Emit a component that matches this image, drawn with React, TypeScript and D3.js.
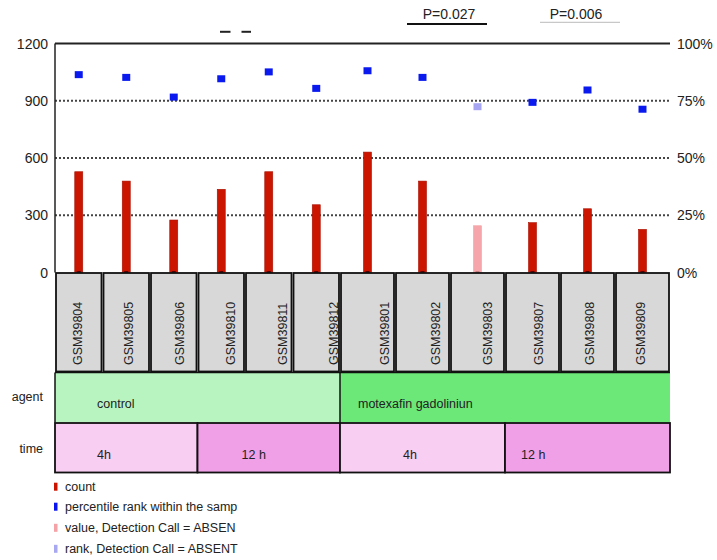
import React from "react";
import * as d3 from "d3";

const samples = ["GSM39804","GSM39805","GSM39806","GSM39810","GSM39811","GSM39812","GSM39801","GSM39802","GSM39803","GSM39807","GSM39808","GSM39809"];
const counts = [528,479,275,436,528,355,631,479,245,261,334,226];
const ranks = [86.4,85.2,76.6,84.6,87.6,80.4,88.1,85.2,72.4,74.3,79.7,71.3];
const absent = [false,false,false,false,false,false,false,false,true,false,false,false];
const agentNames = ["control","motexafin gadoliniun"];
const agentOf = [0,0,0,0,0,0,1,1,1,1,1,1];
const timeNames = ["4h","12 h","4h","12 h"];
const timeOf = [0,0,0,1,1,1,2,2,2,3,3,3];
const countTicks = [0,300,600,900,1200];
const rankTicks = ["0%","25%","50%","75%","100%"];
const legendItems = ["count","percentile rank within the samp","value, Detection Call = ABSEN","rank, Detection Call = ABSENT"];
const legendColors = ["#c81400","#0a14ee","#f4a2a6","#a8a8f0"];
const pValues = ["P=0.027","P=0.006"];

const W = 717, H = 560;
const L = 55, R = 670, TOP = 43.5, BASE = 272.5;
const FONT = "'Liberation Sans', Arial, Helvetica, sans-serif";
const agentColors = ["#b7f4bf","#6be878"];
const timeColors = ["#f8cef2","#efa0e6","#f8cef2","#efa0e6"];
const agentTextOffsets = [42, 18];
const timeTextOffsets = [42, 44, 63, 16];

export default function App() {
  const y = d3.scaleLinear().domain([0, 1200]).range([BASE, TOP]);
  const yr = d3.scaleLinear().domain([0, 100]).range([BASE, TOP]);
  const groups = agentNames.map((_, g) => samples.filter((_, i) => agentOf[i] === g));
  const split = L + (R - L) * (285 / 615);
  const groupScales = [
    d3.scaleBand().domain(groups[0]).range([L, split]),
    d3.scaleBand().domain(groups[1]).range([split, R]),
  ];
  const xs = (i: number) => groupScales[agentOf[i]](samples[i]) as number;
  const bw = (i: number) => groupScales[agentOf[i]].bandwidth();
  const xl = d3.scaleBand().domain(samples).range([L, R]);

  const boxTop = 273, boxBot = 372.5, agentBot = 422.5, timeBot = 472.5;

  const spanOf = (assign: number[], k: number) => {
    const idx = assign.map((a, i) => (a === k ? i : -1)).filter((i) => i >= 0);
    const x0 = xs(idx[0]);
    const x1 = xs(idx[idx.length - 1]) + bw(idx[idx.length - 1]);
    return [x0, x1];
  };

  const pPos = [
    { cx: 449, lx0: 407, lx1: 487, ly: 24, color: "#111", sw: 2 },
    { cx: 576, lx0: 540, lx1: 620, ly: 22.3, color: "#bbb", sw: 1 },
  ];

  return (
    <svg width={W} height={H} style={{ position: "absolute", left: 0, top: 0, background: "#fff" }} fontFamily={FONT}>
      <rect x={0} y={0} width={W} height={H} fill="#fff" />
      {/* top annotations */}
      <line x1={220} x2={230.5} y1={31.8} y2={31.8} stroke="#222" strokeWidth={2} />
      <line x1={241.5} x2={251} y1={31.8} y2={31.8} stroke="#222" strokeWidth={2} />
      {pValues.map((p, i) => (
        <g key={p}>
          <text x={pPos[i].cx} y={18.5} textAnchor="middle" fontSize={14} fill="#222">{p}</text>
          <line x1={pPos[i].lx0} x2={pPos[i].lx1} y1={pPos[i].ly} y2={pPos[i].ly} stroke={pPos[i].color} strokeWidth={pPos[i].sw} />
        </g>
      ))}
      {/* gridlines */}
      {countTicks.slice(1, 4).map((t) => (
        <line key={t} x1={L} x2={R} y1={y(t)} y2={y(t)} stroke="#444" strokeWidth={2} strokeDasharray="2 2" />
      ))}
      <line x1={L} x2={R} y1={TOP} y2={TOP} stroke="#222" strokeWidth={2} />
      <line x1={L} x2={L} y1={TOP} y2={BASE} stroke="#222" strokeWidth={1.5} />
      {/* axis labels */}
      {countTicks.map((t) => (
        <text key={t} x={48} y={y(t)} dy="0.36em" textAnchor="end" fontSize={14} fill="#222">{t}</text>
      ))}
      {rankTicks.map((t, i) => (
        <text key={t} x={677} y={yr(i * 25)} dy="0.36em" textAnchor="start" fontSize={14} fill="#222">{t}</text>
      ))}
      {/* bars */}
      {counts.map((c, i) => {
        const cx = xs(i) + bw(i) / 2;
        return (
          <g key={"b" + i}>
            <rect x={cx - 4} y={y(c)} width={8} height={BASE - y(c)} fill={absent[i] ? "#f6a6aa" : "#cc1500"} stroke={absent[i] ? "#f2a0a4" : "#a81000"} strokeWidth={0.6} />
            <rect x={cx - 2} y={BASE - 1.5} width={4} height={2} fill={absent[i] ? "#c08080" : "#550000"} />
          </g>
        );
      })}
      {/* rank points */}
      {ranks.map((r, i) => {
        const cx = xs(i) + bw(i) / 2;
        return <rect key={"p" + i} x={cx - 4} y={yr(r) - 3.5} width={8} height={7} fill={absent[i] ? "#a6a6f2" : "#0a1aee"} />;
      })}
      {/* sample boxes */}
      {samples.map((s, i) => (
        <rect key={"box" + s} x={xs(i) + 1} y={boxTop} width={bw(i) - 2} height={boxBot - boxTop - 1} fill="#d8d8d8" stroke="#111" strokeWidth={1.8} />
      ))}
      {samples.map((s) => {
        const cx = (xl(s) as number) + xl.bandwidth() / 2 - 3;
        return (
          <text key={"lab" + s} transform={`translate(${cx},365) rotate(-90)`} dominantBaseline="central" fontSize={12.5} fill="#222">{s}</text>
        );
      })}
      {/* agent row */}
      {agentNames.map((a, k) => {
        const [x0, x1] = spanOf(agentOf, k);
        return (
          <g key={"ag" + k}>
            <rect x={x0} y={boxBot} width={x1 - x0} height={agentBot - boxBot} fill={agentColors[k]} />
            <line x1={x0} x2={x0} y1={boxBot} y2={agentBot} stroke="#111" strokeWidth={1.5} />
            <text x={x0 + agentTextOffsets[k]} y={407.5} fontSize={12.5} fill="#222">{a}</text>
          </g>
        );
      })}
      <line x1={L} x2={R} y1={boxBot} y2={boxBot} stroke="#111" strokeWidth={1.5} />
      {/* time row */}
      {timeNames.map((t, k) => {
        const [x0, x1] = spanOf(timeOf, k);
        return (
          <g key={"tm" + k}>
            <rect x={x0} y={agentBot + 0.5} width={x1 - x0} height={timeBot - agentBot - 0.5} fill={timeColors[k]} stroke="#111" strokeWidth={1.8} />
            <text x={x0 + timeTextOffsets[k]} y={459} fontSize={12.5} fill="#222">{t}</text>
          </g>
        );
      })}
      <text x={43} y={396.7} dy="0.35em" textAnchor="end" fontSize={12.5} fill="#222">agent</text>
      <text x={43} y={448.7} dy="0.35em" textAnchor="end" fontSize={12.5} fill="#222">time</text>
      {/* legend */}
      {legendItems.map((l, i) => {
        const ly = [486.7, 506.7, 527.8, 548.8][i];
        return (
          <g key={l}>
            <rect x={54} y={ly - 4} width={3.5} height={8} fill={legendColors[i]} />
            <text x={65} y={ly} dy="0.35em" fontSize={12.5} fill="#222">{l}</text>
          </g>
        );
      })}
    </svg>
  );
}
